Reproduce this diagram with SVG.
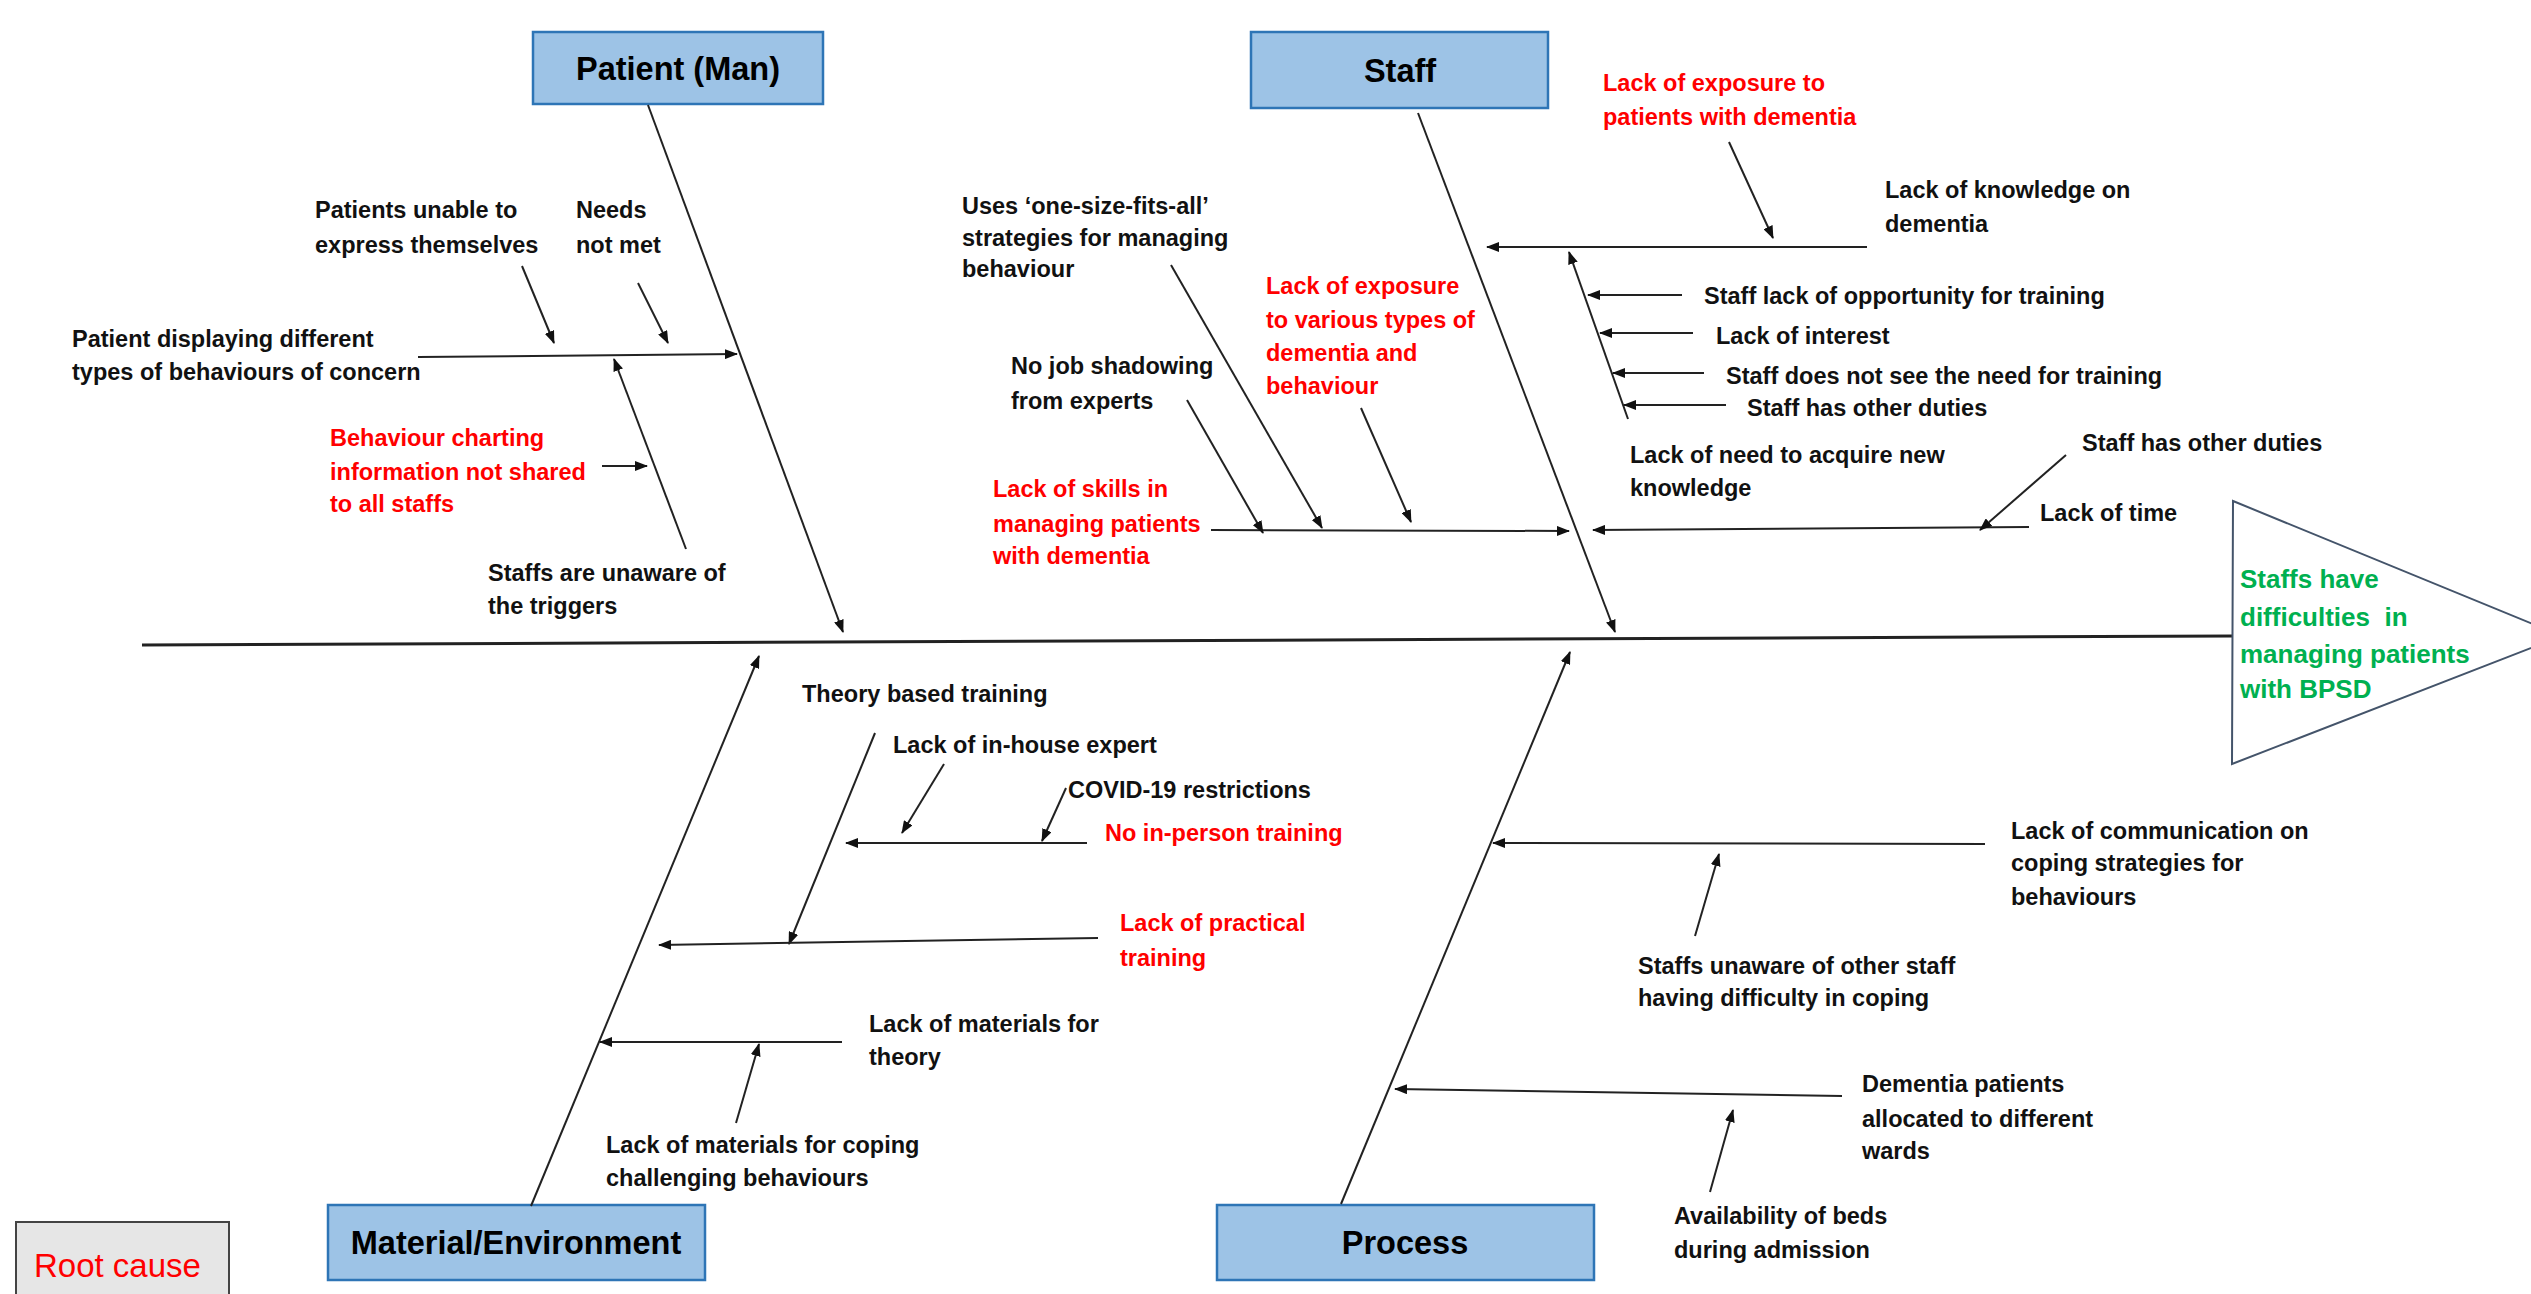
<svg xmlns="http://www.w3.org/2000/svg" width="2531" height="1294" viewBox="0 0 2531 1294">
<style>
.t{font-family:"Liberation Sans",Arial,sans-serif;font-weight:bold;font-size:23.5px;fill:#111}
.r{fill:#ff0000}
.g{font-family:"Liberation Sans",Arial,sans-serif;font-weight:bold;font-size:26px;fill:#00b050}
.cat{fill:#9dc3e6;stroke:#2e75b6;stroke-width:2.5}
.ct{font-family:"Liberation Sans",Arial,sans-serif;font-weight:bold;font-size:32.5px;fill:#000;text-anchor:middle}
.ln{stroke:#222;stroke-width:2;fill:none;marker-end:url(#ah)}
</style>
<defs>
<marker id="ah" markerUnits="userSpaceOnUse" markerWidth="14" markerHeight="10" refX="12" refY="5" orient="auto">
<path d="M0,0 L13,5 L0,10 z" fill="#111"/>
</marker>
</defs>
<rect width="2531" height="1294" fill="#fff"/>

<g id="spine">
<line x1="142" y1="645" x2="2233" y2="636" stroke="#222" stroke-width="3"/>
</g>

<g id="effect">
<polygon points="2233,501 2562,636 2232,764" fill="#fff" stroke="#44546a" stroke-width="2"/>
<text class="g" x="2240" y="588">Staffs have</text>
<text class="g" x="2240" y="626" xml:space="preserve">difficulties  in</text>
<text class="g" x="2240" y="663">managing patients</text>
<text class="g" x="2240" y="698">with BPSD</text>
</g>

<g id="cat-patient">
<rect class="cat" x="533" y="32" width="290" height="72"/>
<text class="ct" x="678" y="80">Patient (Man)</text>
</g>
<g id="cat-staff">
<rect class="cat" x="1251" y="32" width="297" height="76"/>
<text class="ct" x="1400" y="82">Staff</text>
</g>
<g id="cat-material">
<rect class="cat" x="328" y="1205" width="377" height="75"/>
<text class="ct" x="516" y="1254">Material/Environment</text>
</g>
<g id="cat-process">
<rect class="cat" x="1217" y="1205" width="377" height="75"/>
<text class="ct" x="1405" y="1254">Process</text>
</g>

<g id="legend">
<rect x="16" y="1222" width="213" height="80" fill="#e6e6e6" stroke="#444" stroke-width="2"/>
<text x="34" y="1277" font-family="'Liberation Sans',Arial,sans-serif" font-size="33" fill="#ff0000">Root cause</text>
</g>

<g id="connectors">
<line class="ln" x1="648" y1="105" x2="843" y2="632"/>
<line class="ln" x1="1418" y1="113" x2="1615" y2="632"/>
<line class="ln" x1="531" y1="1206" x2="759" y2="656"/>
<line class="ln" x1="1341" y1="1204" x2="1570" y2="652"/>

<line class="ln" x1="418" y1="357" x2="737" y2="354"/>
<line class="ln" x1="522" y1="266" x2="554" y2="343"/>
<line class="ln" x1="638" y1="283" x2="668" y2="343"/>
<line class="ln" x1="686" y1="549" x2="614" y2="359"/>
<line class="ln" x1="602" y1="466" x2="647" y2="466"/>

<line class="ln" x1="1867" y1="247" x2="1487" y2="247"/>
<line class="ln" x1="1729" y1="142" x2="1773" y2="238"/>
<line class="ln" x1="1628" y1="419" x2="1569" y2="252"/>
<line class="ln" x1="1682" y1="295" x2="1588" y2="295"/>
<line class="ln" x1="1693" y1="333" x2="1600" y2="333"/>
<line class="ln" x1="1704" y1="373" x2="1613" y2="373"/>
<line class="ln" x1="1726" y1="405" x2="1624" y2="405"/>
<line class="ln" x1="2029" y1="527" x2="1593" y2="530"/>
<line class="ln" x1="2066" y1="455" x2="1980" y2="530"/>
<line class="ln" x1="1211" y1="530" x2="1569" y2="531"/>
<line class="ln" x1="1187" y1="400" x2="1263" y2="533"/>
<line class="ln" x1="1171" y1="265" x2="1322" y2="528"/>
<line class="ln" x1="1361" y1="408" x2="1411" y2="522"/>

<line class="ln" x1="875" y1="733" x2="789" y2="944"/>
<line class="ln" x1="944" y1="764" x2="902" y2="833"/>
<line class="ln" x1="1087" y1="843" x2="846" y2="843"/>
<line class="ln" x1="1066" y1="788" x2="1042" y2="841"/>
<line class="ln" x1="1098" y1="938" x2="659" y2="945"/>
<line class="ln" x1="842" y1="1042" x2="600" y2="1042"/>
<line class="ln" x1="736" y1="1123" x2="759" y2="1044"/>

<line class="ln" x1="1985" y1="844" x2="1493" y2="843"/>
<line class="ln" x1="1695" y1="936" x2="1719" y2="854"/>
<line class="ln" x1="1842" y1="1096" x2="1395" y2="1089"/>
<line class="ln" x1="1710" y1="1192" x2="1733" y2="1110"/>
</g>

<g id="patient-causes">
<text class="t" x="315" y="218">Patients unable to</text>
<text class="t" x="315" y="253">express themselves</text>
<text class="t" x="576" y="218">Needs</text>
<text class="t" x="576" y="253">not met</text>
<text class="t" x="72" y="347">Patient displaying different</text>
<text class="t" x="72" y="380">types of behaviours of concern</text>
<text class="t r" x="330" y="446">Behaviour charting</text>
<text class="t r" x="330" y="480">information not shared</text>
<text class="t r" x="330" y="512">to all staffs</text>
<text class="t" x="488" y="581">Staffs are unaware of</text>
<text class="t" x="488" y="614">the triggers</text>
</g>

<g id="staff-causes">
<text class="t" x="962" y="214">Uses ‘one-size-fits-all’</text>
<text class="t" x="962" y="246">strategies for managing</text>
<text class="t" x="962" y="277">behaviour</text>
<text class="t r" x="1266" y="294">Lack of exposure</text>
<text class="t r" x="1266" y="328">to various types of</text>
<text class="t r" x="1266" y="361">dementia and</text>
<text class="t r" x="1266" y="394">behaviour</text>
<text class="t" x="1011" y="374">No job shadowing</text>
<text class="t" x="1011" y="409">from experts</text>
<text class="t r" x="993" y="497">Lack of skills in</text>
<text class="t r" x="993" y="532">managing patients</text>
<text class="t r" x="993" y="564">with dementia</text>
<text class="t r" x="1603" y="91">Lack of exposure to</text>
<text class="t r" x="1603" y="125">patients with dementia</text>
<text class="t" x="1885" y="198">Lack of knowledge on</text>
<text class="t" x="1885" y="232">dementia</text>
<text class="t" x="1704" y="304">Staff lack of opportunity for training</text>
<text class="t" x="1716" y="344">Lack of interest</text>
<text class="t" x="1726" y="384">Staff does not see the need for training</text>
<text class="t" x="1747" y="416">Staff has other duties</text>
<text class="t" x="1630" y="463">Lack of need to acquire new</text>
<text class="t" x="1630" y="496">knowledge</text>
<text class="t" x="2082" y="451">Staff has other duties</text>
<text class="t" x="2040" y="521">Lack of time</text>
</g>

<g id="material-causes">
<text class="t" x="802" y="702">Theory based training</text>
<text class="t" x="893" y="753">Lack of in-house expert</text>
<text class="t" x="1068" y="798">COVID-19 restrictions</text>
<text class="t r" x="1105" y="841">No in-person training</text>
<text class="t r" x="1120" y="931">Lack of practical</text>
<text class="t r" x="1120" y="966">training</text>
<text class="t" x="869" y="1032">Lack of materials for</text>
<text class="t" x="869" y="1065">theory</text>
<text class="t" x="606" y="1153">Lack of materials for coping</text>
<text class="t" x="606" y="1186">challenging behaviours</text>
</g>

<g id="process-causes">
<text class="t" x="2011" y="839">Lack of communication on</text>
<text class="t" x="2011" y="871">coping strategies for</text>
<text class="t" x="2011" y="905">behaviours</text>
<text class="t" x="1638" y="974">Staffs unaware of other staff</text>
<text class="t" x="1638" y="1006">having difficulty in coping</text>
<text class="t" x="1862" y="1092">Dementia patients</text>
<text class="t" x="1862" y="1127">allocated to different</text>
<text class="t" x="1862" y="1159">wards</text>
<text class="t" x="1674" y="1224">Availability of beds</text>
<text class="t" x="1674" y="1258">during admission</text>
</g>
</svg>
